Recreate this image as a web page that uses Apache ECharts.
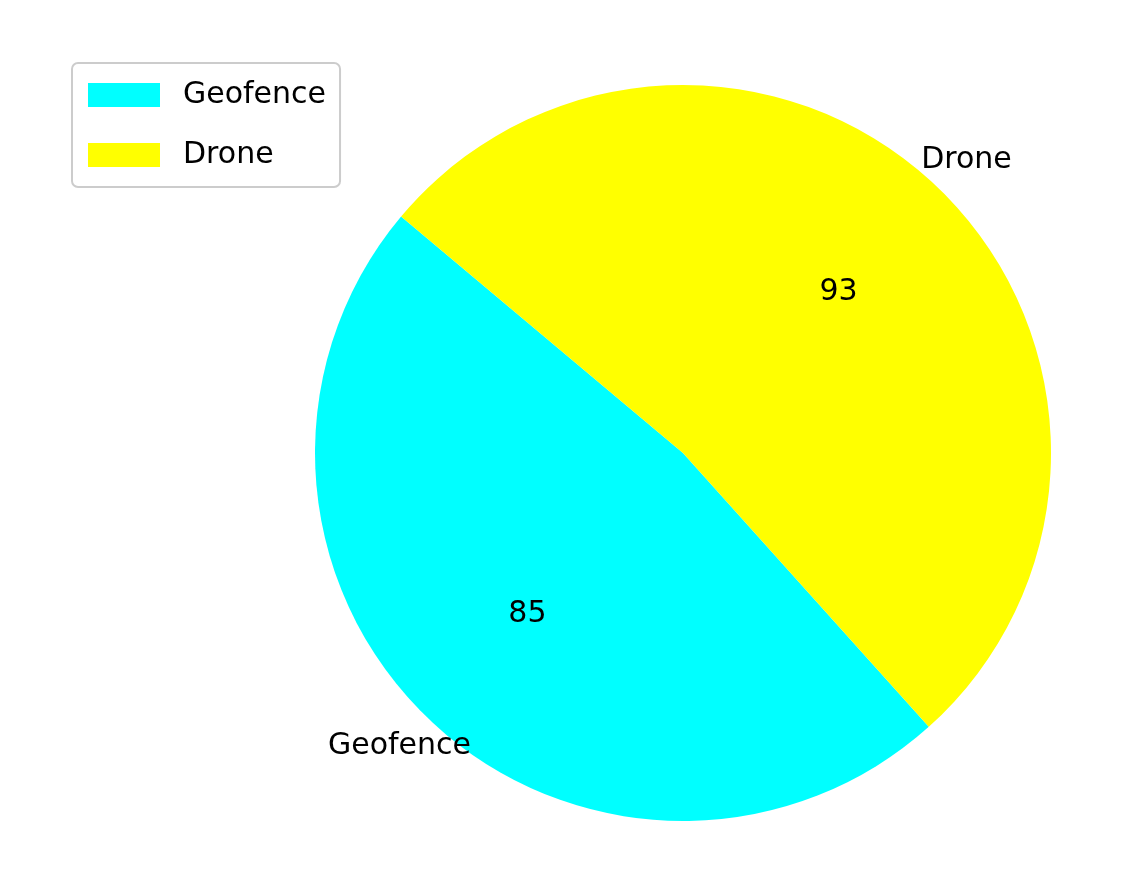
<!DOCTYPE html>
<html>
<head>
<meta charset="utf-8">
<script src="https://cdn.jsdelivr.net/npm/echarts@6/dist/echarts.min.js"></script>
<style>html,body{margin:0;padding:0;background:#fff}</style>
</head>
<body>
<div id="chart" style="width:1139px;height:876px;"></div>
<script>
var names = ['Geofence', 'Drone'];
var values = [85, 93];
var colors = ['#00ffff', '#ffff00'];
var nameAlign = ['right', 'left'];

var R = 368;
var center = [683, 453];
var font = 'DejaVu Sans';

var base = {
    type: 'pie', center: center, clockwise: false, startAngle: 140,
    animation: false, labelLine: { show: false }
};

var chart = echarts.init(document.getElementById('chart'));
chart.setOption({
    legend: {
        left: 72, top: 63, orient: 'vertical',
        data: names, icon: 'rect', itemWidth: 72, itemHeight: 24, itemGap: 30,
        padding: [17, 14, 17, 16],
        borderColor: '#cccccc', borderWidth: 2, borderRadius: 6,
        textStyle: { fontFamily: font, fontSize: 30, color: '#000', padding: [0, 0, 0, 18] }
    },
    series: [
        Object.assign({}, base, {
            name: 'main', radius: [0, R],
            label: { show: false },
            data: names.map(function (n, i) { return { name: n, value: values[i], itemStyle: { color: colors[i] } }; })
        }),
        Object.assign({}, base, {
            name: 'values', radius: [0, R * 1.2], silent: true,
            itemStyle: { color: 'transparent' },
            label: { show: true, position: 'inside', formatter: '{c}', fontFamily: font, fontSize: 30, color: '#000' },
            data: names.map(function (n, i) { return { name: n + ' ', value: values[i] }; })
        }),
        Object.assign({}, base, {
            name: 'names', radius: [0, R * 2.2], silent: true,
            itemStyle: { color: 'transparent' },
            data: names.map(function (n, i) {
                return { name: n + '  ', value: values[i],
                    label: { show: true, position: 'inside', formatter: n, align: nameAlign[i], fontFamily: font, fontSize: 30, color: '#000' } };
            })
        })
    ]
});
</script>
</body>
</html>
